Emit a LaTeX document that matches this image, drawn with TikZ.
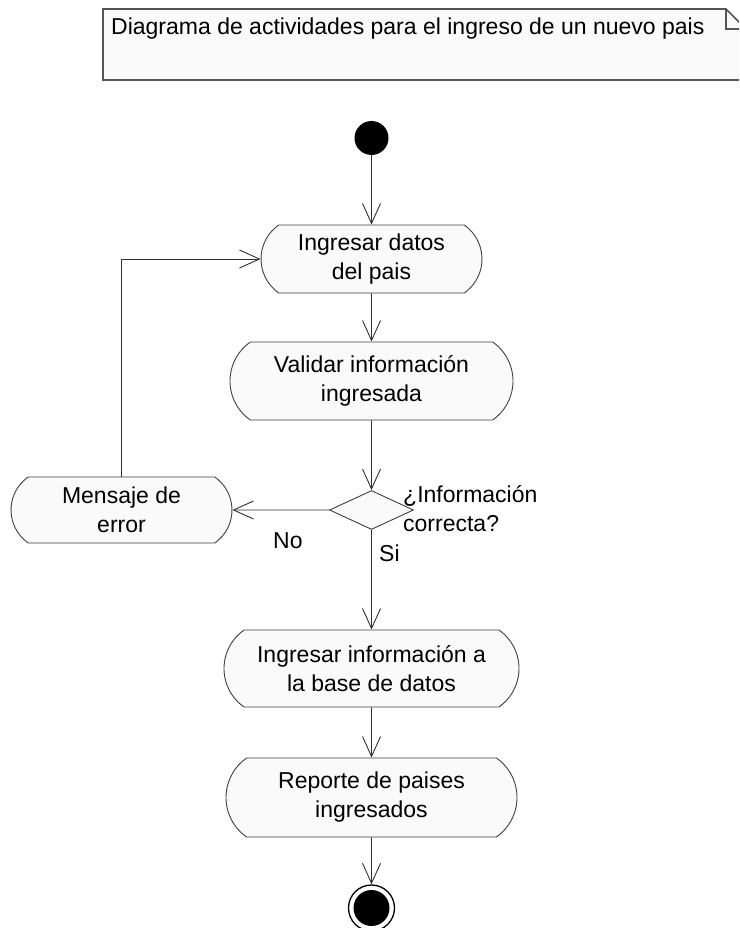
\documentclass[tikz,border=0pt]{standalone}
\usepackage{fontspec}
\setmainfont{Liberation Sans}
\usetikzlibrary{shapes.misc,shapes.geometric,arrows.meta}
\definecolor{linec}{HTML}{303030}
\definecolor{boxfill}{HTML}{FAFAFA}
\definecolor{boxline}{HTML}{404040}
\definecolor{notec}{HTML}{555555}
\begin{document}
\begin{tikzpicture}[x=1pt,y=-1pt,
  act/.style={rounded rectangle, rounded rectangle arc length=110, draw=boxline, fill=boxfill,
    line width=0.9pt, inner sep=0pt, align=center, font=\fontsize{23}{29}\selectfont},
  flow/.style={draw=linec, line width=0.9pt, -{Straight Barb[length=20pt,width=18pt]}},
  lbl/.style={font=\fontsize{23}{29}\selectfont, inner sep=0pt}
]
\useasboundingbox (0,0) rectangle (739,928);
\clip (0,0) rectangle (739,928);
% note
\draw[draw=notec, fill=boxfill, line width=1.6pt] (103,9) -- (726,9) -- (746,29) -- (746,80) -- (103,80) -- cycle;
\draw[draw=notec, line width=1.2pt] (726,9) -- (726,29) -- (746,29);
\node[lbl, anchor=base west] (note) at (111,35) {Diagrama de actividades para el ingreso de un nuevo pais};
% nodes
\node[circle, fill=black, minimum size=34pt, inner sep=0pt] (start) at (371.5,138) {};
\node[act, minimum width=221pt, minimum height=68pt] (b1) at (371.5,259) {Ingresar datos\\del pais};
\node[act, minimum width=283pt, minimum height=78pt] (b2) at (371.5,381) {Validar información\\ingresada};
\node[diamond, draw=boxline, fill=boxfill, line width=0.9pt, inner sep=0pt,
  minimum width=84pt, minimum height=39pt] (dec) at (371.5,510) {};
\node[act, minimum width=221pt, minimum height=66pt] (err) at (121.5,510) {Mensaje de\\error};
\node[act, minimum width=295pt, minimum height=77pt] (b3) at (371.5,668.5) {Ingresar información a\\la base de datos};
\node[act, minimum width=291pt, minimum height=79pt] (b4) at (371.5,797.5) {Reporte de paises\\ingresados};
\node[circle, draw=black, line width=1.3pt, fill=white, minimum size=46pt, inner sep=0pt] (end) at (371.5,908) {};
\node[circle, fill=black, minimum size=36pt, inner sep=0pt] (endin) at (end) {};
% labels
\node[lbl, anchor=base west, align=left] (q) at (403,531) {¿Información\\correcta?};
\node[lbl, anchor=base west] (no) at (273,548) {No};
\node[lbl, anchor=base west] (si) at (379,561) {Si};
% connectors
\draw[flow] (start) -- (b1);
\draw[flow] (b1) -- (b2);
\draw[flow] (b2) -- (dec);
\draw[flow] (dec) -- (err);
\draw[flow] (dec) -- (b3);
\draw[flow] (b3) -- (b4);
\draw[flow] (b4) -- (end);
\draw[flow] (err.north) |- (b1.west);
\end{tikzpicture}
\end{document}
